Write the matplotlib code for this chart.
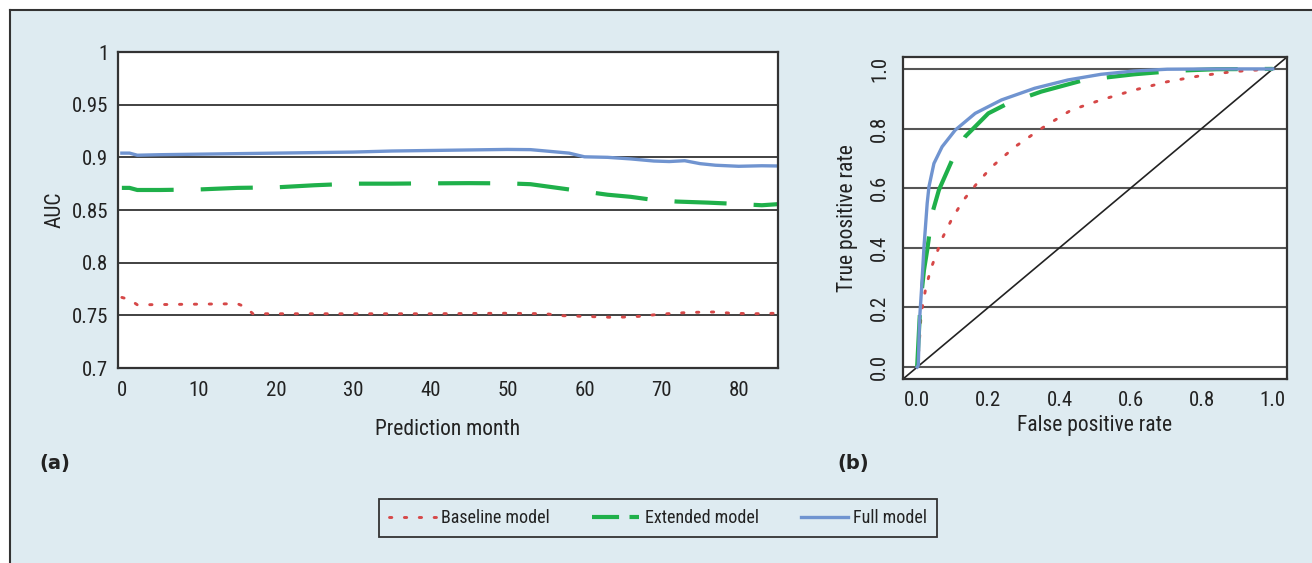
import matplotlib
matplotlib.use("Agg")
import matplotlib.pyplot as plt
from matplotlib.lines import Line2D
from matplotlib.patches import Rectangle

plt.rcParams['font.family'] = ['Roboto Condensed', 'IBM Plex Sans Condensed', 'DejaVu Sans']

# (a) AUC per prediction month
months_full = [0, 1, 2, 5, 10, 15, 20, 25, 30, 35, 40, 45, 50, 53, 55, 58, 60, 63, 66, 69, 71, 73, 75, 77, 80, 83, 85]
auc_full = [0.904, 0.904, 0.902, 0.9025, 0.903, 0.9035, 0.904, 0.9045, 0.905, 0.906, 0.9065, 0.907, 0.9075, 0.9073,
            0.906, 0.904, 0.9005, 0.900, 0.8985, 0.8965, 0.896, 0.8968, 0.894, 0.8925, 0.8915, 0.892, 0.8918]

months_ext = [0, 1, 2, 5, 10, 15, 20, 25, 30, 35, 40, 45, 50, 53, 57, 60, 63, 66, 69, 72, 76, 80, 83, 85]
auc_ext = [0.871, 0.871, 0.869, 0.869, 0.8695, 0.871, 0.8715, 0.8735, 0.875, 0.875, 0.8753, 0.8755, 0.8753, 0.8745,
           0.8705, 0.8675, 0.8645, 0.8625, 0.8595, 0.858, 0.857, 0.8557, 0.8545, 0.8555]

months_base = [0, 1, 2, 15, 16, 17, 30, 40, 50, 55, 57, 60, 64, 67, 70, 73, 75, 77, 79, 82, 85]
auc_base = [0.767, 0.765, 0.760, 0.761, 0.758, 0.7515, 0.7515, 0.7515, 0.752, 0.7515, 0.7497, 0.749, 0.748, 0.749,
            0.7512, 0.7525, 0.753, 0.7532, 0.752, 0.7515, 0.752]

# (b) ROC curves
fpr_full = [0.0, 0.003, 0.0065, 0.012, 0.019, 0.028, 0.033, 0.047, 0.07, 0.107, 0.163, 0.237, 0.33, 0.424, 0.517,
            0.61, 0.703, 0.84, 1.0]
tpr_full = [0.0, 0.006, 0.157, 0.258, 0.403, 0.549, 0.605, 0.683, 0.739, 0.795, 0.851, 0.896, 0.935, 0.963, 0.982,
            0.993, 0.999, 1.0, 1.0]

fpr_ext = [0.0, 0.0, 0.005, 0.009, 0.019, 0.028, 0.042, 0.061, 0.098, 0.135, 0.2, 0.256, 0.349, 0.47, 0.61, 0.731,
           0.84, 1.0]
tpr_ext = [0.0, 0.006, 0.123, 0.213, 0.325, 0.392, 0.515, 0.594, 0.694, 0.773, 0.851, 0.885, 0.924, 0.963, 0.982,
           0.994, 0.999, 1.0]

fpr_base = [0.0, 0.0, 0.005, 0.011, 0.023, 0.037, 0.051, 0.07, 0.098, 0.13, 0.168, 0.21, 0.275, 0.349, 0.433, 0.517,
            0.61, 0.703, 0.796, 0.889, 1.0]
tpr_base = [0.0, 0.006, 0.067, 0.179, 0.258, 0.325, 0.37, 0.431, 0.498, 0.56, 0.616, 0.672, 0.739, 0.8, 0.862, 0.896,
            0.929, 0.957, 0.977, 0.991, 1.0]

labels = ["Baseline model", "Extended model", "Full model"]

BG = "#deebf1"
DARK = "#333333"
TXT = "#222222"
C_BASE = "#d64848"
C_EXT = "#1fb04a"
C_FULL = "#7094d0"

base_style = dict(color=C_BASE, lw=2.1, linestyle=(0, (0.8, 4.3)), dash_capstyle="round")
ext_style = dict(color=C_EXT, lw=3.0, linestyle=(0, (12.5, 6.5)))
full_style = dict(color=C_FULL, lw=2.4, linestyle="-")

W, H = 1312, 563
fig = plt.figure(figsize=(W / 100, H / 100), dpi=100, facecolor="white")

# background panel with top/left rule
fig.patches.append(Rectangle((10 / W, 0), 1 - 10 / W, 1 - 10 / H, transform=fig.transFigure,
                             facecolor=BG, edgecolor="none", zorder=-10))
fig.lines.append(Line2D([10 / W, 1], [1 - 10 / H, 1 - 10 / H], transform=fig.transFigure, color=DARK, lw=1.5))
fig.lines.append(Line2D([10 / W, 10 / W], [0, 1 - 10 / H], transform=fig.transFigure, color=DARK, lw=1.5))

# ---- panel (a)
ax1 = fig.add_axes([118 / W, 1 - 368 / H, (778 - 118) / W, (368 - 52) / H])
ax1.plot(months_base, auc_base, **base_style)
ax1.plot(months_ext, auc_ext, **ext_style)
ax1.plot(months_full, auc_full, **full_style)
ax1.set_xlim(-0.5, 85.1)
ax1.set_ylim(0.7, 1.0)
ax1.set_xticks(range(0, 90, 10))
yt = [0.7, 0.75, 0.8, 0.85, 0.9, 0.95, 1.0]
ax1.set_yticks(yt)
ax1.set_yticklabels(["0.7", "0.75", "0.8", "0.85", "0.9", "0.95", "1"])
for v in yt[1:-1]:
    ax1.axhline(v, color=DARK, lw=1.3, zorder=0.5)
ax1.tick_params(length=0, labelsize=15, colors=TXT)
ax1.tick_params(axis="x", pad=9)
ax1.tick_params(axis="y", pad=7)
ax1.set_xlabel("Prediction month", fontsize=15.5, color=TXT, labelpad=14)
ax1.set_ylabel("AUC", fontsize=15.5, color=TXT, labelpad=4.5)
for s in ax1.spines.values():
    s.set_color(DARK)
    s.set_linewidth(1.6)

# ---- panel (b)
ax2 = fig.add_axes([903 / W, 1 - 379 / H, (1287 - 903) / W, (379 - 57) / H])
for v in [0.0, 0.2, 0.4, 0.6, 0.8, 1.0]:
    ax2.axhline(v, color="#555555", lw=1.5, zorder=0.5)
ax2.plot([-0.04, 1.04], [-0.04, 1.04], color=TXT, lw=1.2, zorder=1)
ax2.plot(fpr_base, tpr_base, **base_style)
ax2.plot(fpr_ext, tpr_ext, **ext_style)
ax2.plot(fpr_full, tpr_full, **full_style)
ax2.set_xlim(-0.04, 1.04)
ax2.set_ylim(-0.04, 1.04)
ticks = [0.0, 0.2, 0.4, 0.6, 0.8, 1.0]
ax2.set_xticks(ticks)
ax2.set_yticks(ticks)
ax2.set_xticklabels([f"{t:.1f}" for t in ticks])
ax2.set_yticklabels([f"{t:.1f}" for t in ticks], rotation=90, va="center")
ax2.tick_params(length=0, labelsize=15, colors=TXT)
ax2.tick_params(axis="x", pad=9)
ax2.tick_params(axis="y", pad=10)
ax2.set_xlabel("False positive rate", fontsize=15.5, color=TXT, labelpad=3.5)
ax2.set_ylabel("True positive rate", fontsize=15.5, color=TXT, labelpad=9)
for s in ax2.spines.values():
    s.set_color(DARK)
    s.set_linewidth(1.6)

# panel tags
fig.text(55 / W, 1 - 463 / H, "(a)", fontsize=14, fontweight="heavy", family="DejaVu Sans",
         ha="center", va="center", color=TXT)
fig.text(853 / W, 1 - 463 / H, "(b)", fontsize=14, fontweight="heavy", family="DejaVu Sans",
         ha="center", va="center", color=TXT)

# legend
handles = [
    Line2D([], [], color=C_BASE, lw=2.1, linestyle=(0, (0.8, 4.3)), dash_capstyle="round"),
    Line2D([], [], color=C_EXT, lw=3.0, linestyle=(0, (6.5, 2.5))),
    Line2D([], [], color=C_FULL, lw=2.4),
]
leg = fig.legend(handles, labels, loc="center", bbox_to_anchor=(658 / W, 1 - 518 / H), ncol=3,
                 fontsize=13, frameon=True, fancybox=False, edgecolor=DARK, facecolor=BG, framealpha=1,
                 handlelength=2.6, handletextpad=0.3, columnspacing=2.35, borderpad=0.55)
leg.get_frame().set_linewidth(1.3)
for t in leg.get_texts():
    t.set_color(TXT)

fig.savefig("out.png", dpi=100, facecolor="white")
